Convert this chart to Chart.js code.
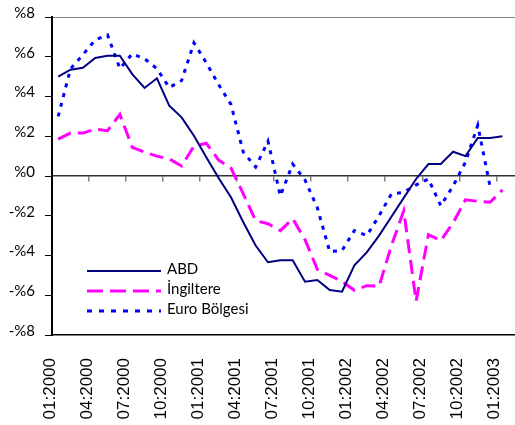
<!DOCTYPE html>
<html>
<head>
<meta charset="utf-8">
<script src="https://cdn.jsdelivr.net/npm/chart.js@4.4.0/dist/chart.umd.min.js"></script>
<style>
  html, body { margin: 0; padding: 0; background: #fff; overflow: hidden; }
  #wrap { width: 521px; height: 425px; }
</style>
</head>
<body>
<div id="wrap"><canvas id="myChart"></canvas></div>
<script>
// monthly categories, 01:2000 .. 02:2003
const months = [
  '01:2000', '02:2000', '03:2000', '04:2000', '05:2000', '06:2000',
  '07:2000', '08:2000', '09:2000', '10:2000', '11:2000', '12:2000',
  '01:2001', '02:2001', '03:2001', '04:2001', '05:2001', '06:2001',
  '07:2001', '08:2001', '09:2001', '10:2001', '11:2001', '12:2001',
  '01:2002', '02:2002', '03:2002', '04:2002', '05:2002', '06:2002',
  '07:2002', '08:2002', '09:2002', '10:2002', '11:2002', '12:2002',
  '01:2003', '02:2003'
];

const abd = [
  5.0, 5.35, 5.45, 5.94, 6.05, 6.05, 5.13, 4.43, 4.92, 3.54, 2.95, 2.03,
  0.94, -0.1, -1.07, -2.33, -3.5, -4.34, -4.24, -4.24, -5.32, -5.23, -5.74, -5.82,
  -4.5, -3.84, -3.0, -2.05, -1.1, -0.15, 0.6, 0.6, 1.22, 1.0, 1.91, 1.91,
  2.0
];

const ingiltere = [
  1.86, 2.16, 2.16, 2.36, 2.28, 3.1, 1.44, 1.2, 1.0, 0.86, 0.5, 1.5,
  1.65, 0.8, 0.4, -0.9, -2.25, -2.4, -2.75, -2.15, -3.2, -4.7, -5.0, -5.3,
  -5.75, -5.52, -5.55, -3.5, -1.75, -6.3, -2.95, -3.25, -2.35, -1.2, -1.27, -1.32,
  -0.7
];

const euro = [
  3.0, 5.4, 6.1, 6.85, 7.1, 5.4, 6.15, 5.9, 5.4, 4.45, 4.8, 6.7,
  5.7, 4.6, 3.6, 1.2, 0.45, 1.75, -1.0, 0.6, -0.2, -1.6, -3.8, -3.75,
  -2.75, -3.0, -2.0, -0.9, -0.82, -0.45, -0.15, -1.5, -0.5, 0.7, 2.55, -0.55,
  null
];

const seriesNames = ['ABD', 'İngiltere', 'Euro Bölgesi'];

function yLabel(v) {
  if (v < 0) return '-%' + (-v);
  return '%' + v;
}

// legend drawn inside the plot, like the original
const insideLegend = {
  id: 'insideLegend',
  afterDatasetsDraw(chart) {
    const ctx = chart.ctx;
    const rows = [271, 291, 311];
    chart.data.datasets.forEach((ds, i) => {
      const y = rows[i];
      ctx.save();
      ctx.strokeStyle = ds.borderColor;
      ctx.lineWidth = ds.borderWidth;
      ctx.setLineDash(ds.legendDash || ds.borderDash || []);
      ctx.beginPath();
      ctx.moveTo(87, y);
      ctx.lineTo(161, y);
      ctx.stroke();
      ctx.setLineDash([]);
      ctx.fillStyle = '#000';
      ctx.font = '15px Lato';
      ctx.textBaseline = 'alphabetic';
      ctx.fillText(ds.label, 167, y + 3);
      ctx.restore();
    });
  }
};

Chart.defaults.font.family = 'Lato';
Chart.defaults.color = '#000';

let ctx = document.getElementById('myChart').getContext('2d');
new Chart(ctx, {
  type: 'line',
  data: {
    labels: months,
    datasets: [
      {
        label: seriesNames[0],
        data: abd,
        borderColor: '#000080',
        borderWidth: 2,
        pointRadius: 0,
        tension: 0
      },
      {
        label: seriesNames[1],
        data: ingiltere,
        borderColor: '#ff00ff',
        borderWidth: 3,
        borderDash: [14, 7],
        legendDash: [16, 7],
        pointRadius: 0,
        tension: 0
      },
      {
        label: seriesNames[2],
        data: euro,
        borderColor: '#0000ff',
        borderWidth: 3,
        borderDash: [4, 6],
        legendDash: [5, 7],
        pointRadius: 0,
        tension: 0
      }
    ]
  },
  options: {
    responsive: true,
    maintainAspectRatio: false,
    animation: false,
    layout: { padding: { top: 17, right: 0, left: 0, bottom: 0 } },
    plugins: {
      legend: { display: false },
      tooltip: { enabled: false }
    },
    scales: {
      x: {
        type: 'category',
        position: 'bottom',
        offset: true,
        grid: { display: false },
        border: { display: true, color: '#000', width: 1.5 },
        ticks: {
          autoSkip: false,
          minRotation: 90,
          maxRotation: 90,
          padding: 15,
          labelOffset: -8,
          font: { family: 'Liberation Sans', size: 17 },
          callback: function (val, idx) {
            return idx % 3 === 0 ? months[idx] : '';
          }
        },
        afterFit: function (s) {
          s.height = 90;
          s.paddingLeft = 0;
          s.paddingRight = 0;
        }
      },
      x2: {
        type: 'category',
        position: { y: 0 },
        offset: true,
        grid: {
          offset: true,
          drawOnChartArea: false,
          drawTicks: true,
          tickLength: 5,
          lineWidth: 1.5,
          tickColor: function (c) {
            return c.index % 3 === 0 ? '#808080' : 'rgba(0,0,0,0)';
          }
        },
        border: { display: true, color: '#333', width: 1.5 },
        ticks: { display: false, autoSkip: false },
        afterFit: function (s) {
          s.height = 0;
          s.paddingLeft = 0;
          s.paddingRight = 0;
        }
      },
      y: {
        min: -8,
        max: 8,
        grid: {
          drawTicks: true,
          tickLength: 7,
          color: function (c) {
            return c.tick && c.tick.value === 8 ? '#808080' : 'rgba(0,0,0,0)';
          },
          tickColor: '#000'
        },
        border: { display: true, color: '#000', width: 2 },
        ticks: {
          stepSize: 2,
          padding: 10,
          labelOffset: -4,
          font: { size: 15 },
          callback: function (v) { return yLabel(v); }
        },
        afterFit: function (s) {
          s.width = 52;
          s.paddingTop = 0;
          s.paddingBottom = 0;
        }
      }
    }
  },
  plugins: [insideLegend]
});
</script>
</body>
</html>
